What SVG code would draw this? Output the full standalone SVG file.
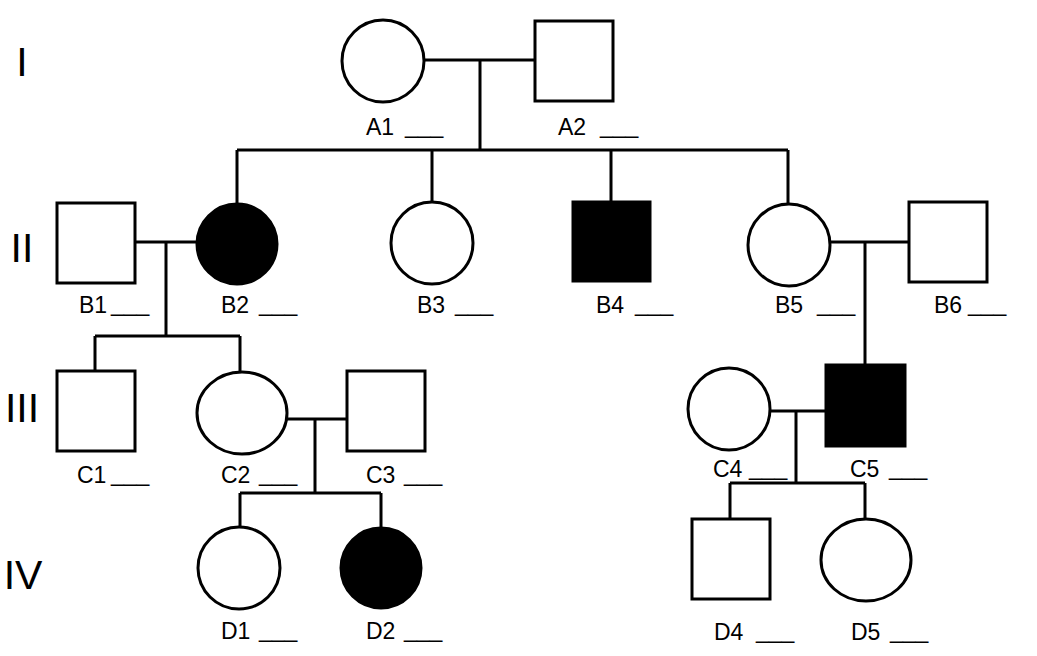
<svg xmlns="http://www.w3.org/2000/svg" width="1037" height="656" viewBox="0 0 1037 656">
<style>
.s{fill:#fff;stroke:#000;stroke-width:3}
.a{fill:#000;stroke:#000;stroke-width:3}
.l{stroke:#000;stroke-width:3;fill:none}
.t{font-family:"Liberation Sans",Arial,sans-serif;font-size:23px;fill:#000}
.g{font-family:"Liberation Sans",Arial,sans-serif;font-size:41px;fill:#000;text-anchor:middle}
</style>
<rect width="1037" height="656" fill="#fff"/>
<g id="generations">
<text class="g" x="22" y="76">I</text>
<text class="g" x="22" y="262">II</text>
<text class="g" x="22" y="422">III</text>
<text class="g" x="23" y="589">IV</text>
</g>
<g id="connectors" class="l">
<path d="M424 60H535M480 60V150M237 150H788M237 150V204M432 150V202M611 150V202M788 150V205"/>
<path d="M135 242H196M166 242V336M95 336H240M95 336V371M240 336V372"/>
<path d="M831 242H909M865 242V365"/>
<path d="M287 419H347M315 419V493M240 493H381M240 493V528M381 493V527"/>
<path d="M771 411H826M796 411V483M730 483H865M730 483V519M865 483V519"/>
</g>
<g id="A1"><circle class="s" cx="383" cy="61" r="41"/><text class="t" x="366" y="135">A1 <tspan x="405" dy="-2">___</tspan></text></g>
<g id="A2"><rect class="s" x="535" y="21" width="78" height="80"/><text class="t" x="558" y="135">A2 <tspan x="600" dy="-2">___</tspan></text></g>
<g id="B1"><rect class="s" x="57" y="203" width="78" height="80"/><text class="t" x="79" y="313">B1 <tspan x="111" dy="-2">___</tspan></text></g>
<g id="B2"><circle class="a" cx="237" cy="244" r="40"/><text class="t" x="221" y="313">B2 <tspan x="259" dy="-2">___</tspan></text></g>
<g id="B3"><circle class="s" cx="432" cy="243" r="41"/><text class="t" x="417" y="313">B3 <tspan x="455" dy="-2">___</tspan></text></g>
<g id="B4"><rect class="a" x="573" y="202" width="77" height="79"/><text class="t" x="596" y="313">B4 <tspan x="635" dy="-2">___</tspan></text></g>
<g id="B5"><circle class="s" cx="789" cy="245" r="41"/><text class="t" x="775" y="313">B5 <tspan x="817" dy="-2">___</tspan></text></g>
<g id="B6"><rect class="s" x="909" y="202" width="78" height="80"/><text class="t" x="934" y="313">B6 <tspan x="968" dy="-2">___</tspan></text></g>
<g id="C1"><rect class="s" x="57" y="371" width="78" height="80"/><text class="t" x="77" y="483">C1 <tspan x="111" dy="-2">___</tspan></text></g>
<g id="C2"><ellipse class="s" cx="242" cy="413" rx="45" ry="41"/><text class="t" x="221" y="483">C2 <tspan x="259" dy="-2">___</tspan></text></g>
<g id="C3"><rect class="s" x="347" y="371" width="78" height="80"/><text class="t" x="366" y="483">C3 <tspan x="404" dy="-2">___</tspan></text></g>
<g id="C4"><circle class="s" cx="729" cy="409" r="41"/><text class="t" x="713" y="477">C4 <tspan x="749" dy="-2">___</tspan></text></g>
<g id="C5"><rect class="a" x="826" y="365" width="79" height="81"/><text class="t" x="850" y="477">C5 <tspan x="889" dy="-2">___</tspan></text></g>
<g id="D1"><circle class="s" cx="239" cy="568" r="41"/><text class="t" x="221" y="639">D1 <tspan x="259" dy="-2">___</tspan></text></g>
<g id="D2"><circle class="a" cx="381" cy="568" r="40"/><text class="t" x="366" y="639">D2 <tspan x="404" dy="-2">___</tspan></text></g>
<g id="D4"><rect class="s" x="692" y="519" width="78" height="80"/><text class="t" x="714" y="640">D4 <tspan x="756" dy="-2">___</tspan></text></g>
<g id="D5"><ellipse class="s" cx="866" cy="560" rx="45" ry="41"/><text class="t" x="851" y="640">D5 <tspan x="890" dy="-2">___</tspan></text></g>
</svg>
